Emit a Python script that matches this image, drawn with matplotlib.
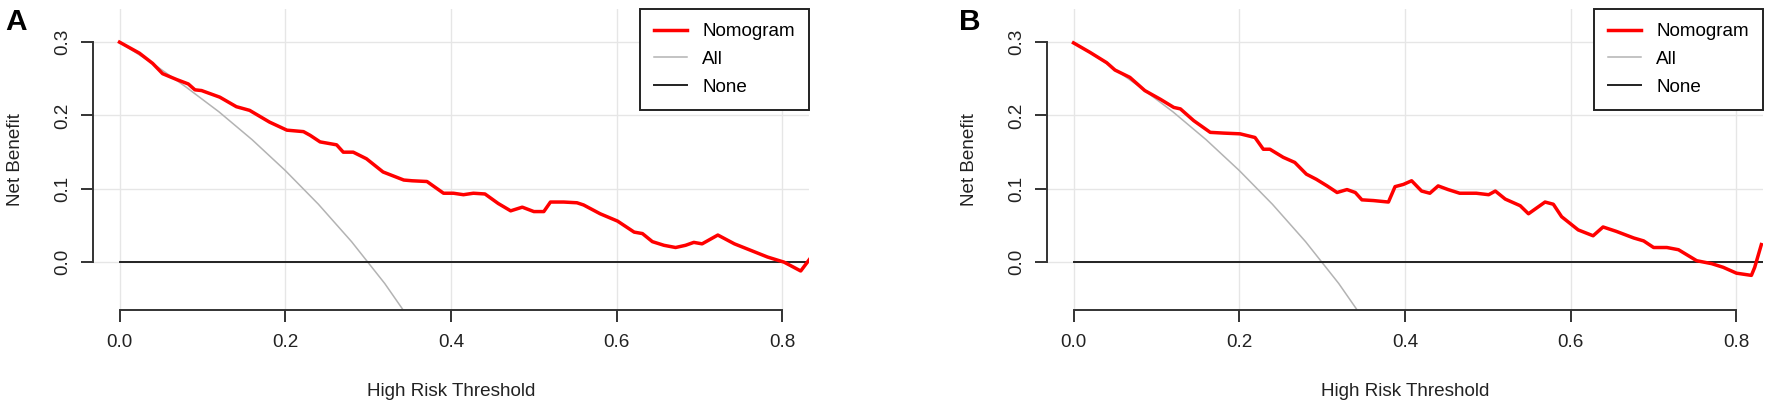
import matplotlib.pyplot as plt

plt.rcParams['font.family'] = ['Liberation Sans', 'DejaVu Sans']

# Panel A: Nomogram net benefit
a_thr = [0.000, 0.024, 0.040, 0.052, 0.069, 0.083, 0.091, 0.099, 0.121, 0.141,
         0.157, 0.181, 0.202, 0.222, 0.230, 0.242, 0.262, 0.270, 0.282, 0.298,
         0.318, 0.343, 0.353, 0.371, 0.391, 0.403, 0.415, 0.427, 0.441, 0.457,
         0.472, 0.486, 0.500, 0.512, 0.520, 0.536, 0.552, 0.560, 0.580, 0.601,
         0.621, 0.631, 0.643, 0.657, 0.671, 0.683, 0.693, 0.703, 0.722, 0.742,
         0.762, 0.782, 0.802, 0.822, 0.834]
a_nomo = [0.300, 0.285, 0.271, 0.257, 0.249, 0.243, 0.235, 0.234, 0.225, 0.212,
          0.207, 0.191, 0.180, 0.178, 0.173, 0.164, 0.160, 0.150, 0.150, 0.141,
          0.123, 0.112, 0.111, 0.110, 0.094, 0.094, 0.092, 0.094, 0.093, 0.080,
          0.070, 0.075, 0.069, 0.069, 0.082, 0.082, 0.081, 0.078, 0.066, 0.056,
          0.041, 0.039, 0.028, 0.023, 0.020, 0.023, 0.027, 0.025, 0.037, 0.025,
          0.016, 0.007, 0.000, -0.012, 0.006]

# Panel B
b_thr = [0.000, 0.020, 0.040, 0.050, 0.068, 0.086, 0.105, 0.121, 0.129, 0.145,
         0.165, 0.181, 0.201, 0.219, 0.229, 0.237, 0.253, 0.267, 0.281, 0.293,
         0.306, 0.318, 0.330, 0.340, 0.348, 0.362, 0.380, 0.388, 0.398, 0.408,
         0.420, 0.430, 0.440, 0.452, 0.466, 0.486, 0.501, 0.509, 0.521, 0.539,
         0.549, 0.569, 0.579, 0.589, 0.609, 0.627, 0.639, 0.655, 0.676, 0.688,
         0.700, 0.716, 0.730, 0.752, 0.770, 0.784, 0.800, 0.818, 0.822, 0.830]
b_nomo = [0.299, 0.286, 0.272, 0.262, 0.252, 0.234, 0.222, 0.211, 0.209, 0.193,
          0.177, 0.176, 0.175, 0.170, 0.154, 0.154, 0.143, 0.136, 0.120, 0.113,
          0.104, 0.095, 0.099, 0.095, 0.085, 0.084, 0.082, 0.103, 0.106, 0.111,
          0.097, 0.094, 0.104, 0.099, 0.094, 0.094, 0.092, 0.097, 0.086, 0.077,
          0.066, 0.082, 0.079, 0.062, 0.044, 0.036, 0.048, 0.042, 0.033, 0.029,
          0.020, 0.020, 0.017, 0.002, -0.002, -0.007, -0.015, -0.018, -0.007, 0.024]

# "All" (treat everyone) curve, same in both panels
all_thr = [0.00, 0.04, 0.08, 0.12, 0.16, 0.20, 0.24, 0.28, 0.32, 0.36]
all_nb = [0.300, 0.271, 0.239, 0.205, 0.167, 0.125, 0.079, 0.028, -0.029, -0.094]

x_ticks = [0.0, 0.2, 0.4, 0.6, 0.8]
y_ticks = [0.0, 0.1, 0.2, 0.3]

panels = [('A', a_thr, a_nomo, 93), ('B', b_thr, b_nomo, 1047)]

W, H = 1772, 409
fig = plt.figure(figsize=(W / 100, H / 100), dpi=100)

for letter, thr, nomo, left_px in panels:
    ax = fig.add_axes([left_px / W, (H - 310) / H, 716 / W, 301 / H])
    ax.plot(all_thr, all_nb, color='#b3b3b3', lw=1.1, label='All')
    ax.plot([0, 0.9], [0, 0], color='#222222', lw=1.4, label='None')
    ax.plot(thr, nomo, color='#ff0000', lw=2.5, label='Nomogram')

    ax.set_xlim(-0.032, 0.832)
    ax.set_ylim(-0.0652, 0.3452)
    ax.set_xticks(x_ticks)
    ax.set_yticks(y_ticks)
    ax.set_xticklabels(['%.1f' % t for t in x_ticks])
    ax.set_yticklabels(['%.1f' % t for t in y_ticks], rotation=90, va='center')
    ax.grid(True, color='#e6e6e6', lw=1)
    ax.set_axisbelow(True)

    for s in ['top', 'right']:
        ax.spines[s].set_visible(False)
    ax.spines['left'].set_bounds(0, 0.3)
    ax.spines['bottom'].set_bounds(0, 0.8)
    for s in ['left', 'bottom']:
        ax.spines[s].set_color('#333333')
        ax.spines[s].set_linewidth(1.4)
    ax.tick_params(direction='out', length=8.4, width=1.4, color='#333333',
                   labelsize=13.6, labelcolor='#222222')
    ax.tick_params(axis='x', pad=9)
    ax.tick_params(axis='y', pad=7)

    ax.set_xlabel('High Risk Threshold', fontsize=13.6, color='#222222')
    ax.set_ylabel('Net Benefit', fontsize=13.6, color='#222222')
    ax.xaxis.set_label_coords(0.5, -0.2425)
    ax.yaxis.set_label_coords(-0.097, 0.5)

    handles, labels = ax.get_legend_handles_labels()
    order = [2, 0, 1]
    leg = ax.legend([handles[i] for i in order], [labels[i] for i in order],
                    loc='upper right', borderaxespad=0, fontsize=13.6,
                    fancybox=False, framealpha=1, edgecolor='#222222',
                    handlelength=1.75, handletextpad=0.8, borderpad=0.75,
                    labelspacing=0.55)
    leg.get_frame().set_linewidth(1.4)

    fig.text((left_px - 88) / W, (H - 30) / H, letter, fontsize=21.5,
             fontweight='bold', va='baseline', ha='left')

fig.savefig('out.png', dpi=100)
